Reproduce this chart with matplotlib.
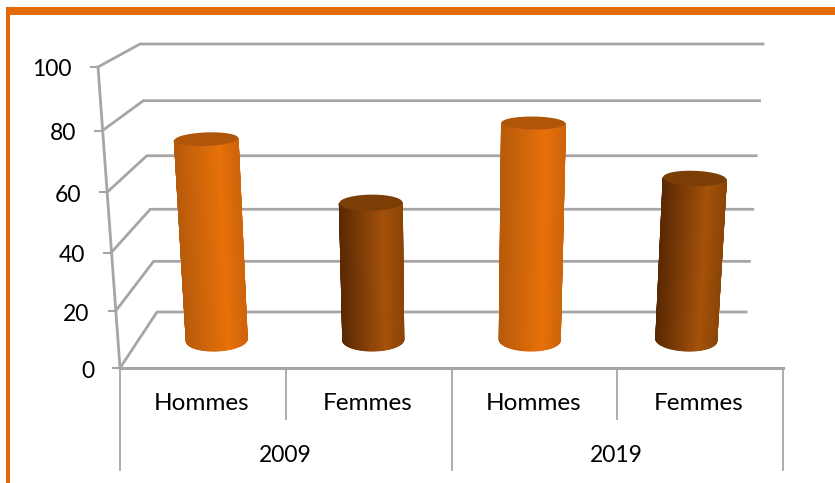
import numpy as np
import matplotlib
matplotlib.use("Agg")
import matplotlib.pyplot as plt
from matplotlib.colors import LinearSegmentedColormap
from matplotlib.patches import Rectangle

plt.rcParams['font.family'] = ['Lato', 'DejaVu Sans']

years = ['2009', '2019']
categories = ['Hommes', 'Femmes', 'Hommes', 'Femmes']
values = [72, 50, 77.5, 58.5]
yticks = [0, 20, 40, 60, 80, 100]

GRID = '#a6a6a6'
ORANGE = '#e36c09'
cmap_light = LinearSegmentedColormap.from_list('light', [(0, '#b85b0a'), (0.7, '#e8710a'), (1, '#cf640a')])
cmap_dark = LinearSegmentedColormap.from_list('dark', [(0, '#5a2904'), (0.7, '#a5520a'), (1, '#8c4506')])
top_colors = ['#b0560a', '#7d3e05']


def wall(v):
    # heights are a bit squeezed low down because of the perspective
    t = v / 100
    return t / (1 + 0.0725 * (1 - t))


def project(c, v, d=0.0):
    # c category position 0..4, v value, d depth 0 front 1 back -> picture pixels
    t = v / 100
    fl, fr = 120 - 22 * t, 783 + 22 * t
    bl, br = 157 - 17 * t, 746 + 17 * t
    xf = fl + (fr - fl) * c / 4
    xb = bl + (br - bl) * c / 4
    yf = 368 - 301 * wall(v)
    yb = 312 - 268 * wall(v)
    return xf + (xb - xf) * d, yf + (yb - yf) * d


fig = plt.figure(figsize=(8.35, 4.83), dpi=100)
ax = fig.add_axes([0, 0, 1, 1])
ax.set_xlim(0, 835)
ax.set_ylim(483, 0)
ax.axis('off')

# orange frame
ax.add_patch(Rectangle((6, 7), 829, 8, color=ORANGE, lw=0))
ax.add_patch(Rectangle((6, 7), 4, 476, color=ORANGE, lw=0))

# walls
for v in yticks:
    x0, y0 = project(0, v, 0)
    x1, y1 = project(0, v, 1)
    x2, y2 = project(4, v, 1)
    ax.plot([x0 - 7, x0], [y0, y0], color=GRID, lw=1.5, zorder=1)
    ax.plot([x0, x1, x2], [y0, y1, y2], color=GRID, lw=2, zorder=1, solid_joinstyle='miter')
    ax.text(x0 - 26, y0 + 3, str(v), ha='right', va='center', fontsize=16.5, color='black')

ax.plot(*zip(project(0, 0), project(0, 100)), color=GRID, lw=2, zorder=1)
ax.plot(*zip(project(0, 0), project(4, 0)), color=GRID, lw=2.2, zorder=1)

# category axis below the floor
for c in range(5):
    x, y = project(c, 0)
    end = 470 if c % 2 == 0 else 419
    ax.plot([x, x], [y, end], color=GRID, lw=1.3, zorder=1)

for c, name in enumerate(categories):
    x, y = project(c + 0.5, 0)
    ax.text(x - 1, 404, name, ha='center', va='center', fontsize=17.5, color='black')
for i, year in enumerate(years):
    x, y = project(2 * i + 1, 0)
    ax.text(x - 1, 456, year, ha='center', va='center', fontsize=16.5, color='black')

# cylinders
theta = np.linspace(np.pi, 0, 60)
for c, v in enumerate(values):
    pos = c + 0.5
    cmap = cmap_light if c % 2 == 0 else cmap_dark
    xb, yb = project(pos, 0, 0.5)
    xt, yt = project(pos, v, 0.5)
    rb = (project(pos + 0.195, 0, 0.5)[0] - project(pos - 0.195, 0, 0.5)[0]) / 2
    rt = (project(pos + 0.195, v, 0.5)[0] - project(pos - 0.195, v, 0.5)[0]) / 2
    bt = 11 - 0.058 * v
    tilt = (pos - 2) * 0.025

    xs_b = xb + rb * np.cos(theta)
    ys_b = yb + 11 * np.sin(theta) + tilt * rb * np.cos(theta)
    xs_t = xt + rt * np.cos(theta)
    ys_t = yt + bt * np.sin(theta) + tilt * rt * np.cos(theta)
    u = (1 + np.cos(theta)) / 2

    ax.pcolormesh(np.array([xs_t, xs_b]), np.array([ys_t, ys_b]), np.array([u, u]),
                  cmap=cmap, vmin=0, vmax=1, shading='gouraud', zorder=3)
    ring = np.linspace(0, 2 * np.pi, 120)
    ax.fill(xt + rt * np.cos(ring), yt + bt * np.sin(ring) + tilt * rt * np.cos(ring),
            color=top_colors[c % 2], lw=0, zorder=4)

fig.savefig('out.png', dpi=100)
